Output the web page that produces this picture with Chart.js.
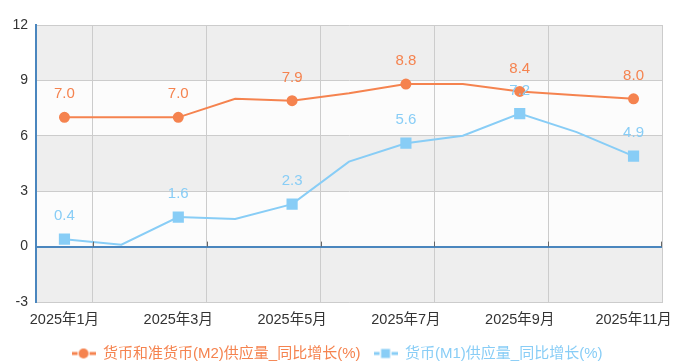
<!DOCTYPE html>
<html>
<head>
<meta charset="utf-8">
<script src="https://cdn.jsdelivr.net/npm/chart.js@4/dist/chart.umd.min.js"></script>
<style>
  html, body { margin: 0; padding: 0; background: #fff; }
  #wrap { width: 674px; height: 364px; }
</style>
</head>
<body>
<div id="wrap"><canvas id="c" width="674" height="364"></canvas></div>
<script>
// data
const months = ['2025年1月', '2025年2月', '2025年3月', '2025年4月', '2025年5月', '2025年6月',
  '2025年7月', '2025年8月', '2025年9月', '2025年10月', '2025年11月'];
const m2Growth = [7.0, 7.0, 7.0, 8.0, 7.9, 8.3, 8.8, 8.8, 8.4, 8.2, 8.0];
const m1Growth = [0.4, 0.1, 1.6, 1.5, 2.3, 4.6, 5.6, 6.0, 7.2, 6.2, 4.9];
const yTicks = [-3, 0, 3, 6, 9, 12];
const m2Name = '货币和准货币(M2)供应量_同比增长(%)';
const m1Name = '货币(M1)供应量_同比增长(%)';

const ORANGE = '#f5834f';
const BLUE = '#88cdf6';
const AXIS_BLUE = '#4a86be';
const FONT = '"Liberation Sans", Arial, "Noto Sans CJK SC", sans-serif';

// only odd months carry a marker and a label
const shown = i => i % 2 === 0;

// legend symbols: short line with the marker in the middle
function legendIcon(color, shape) {
  const cv = document.createElement('canvas');
  cv.width = 24; cv.height = 12;
  const g = cv.getContext('2d');
  g.strokeStyle = color;
  g.lineWidth = 3;
  g.beginPath(); g.moveTo(0, 6); g.lineTo(6, 6); g.moveTo(18, 6); g.lineTo(24, 6); g.stroke();
  g.fillStyle = color;
  if (shape === 'circle') {
    g.beginPath(); g.arc(12, 6, 5, 0, Math.PI * 2); g.fill();
  } else {
    g.fillRect(7.5, 1.5, 9, 9);
  }
  return cv;
}

// alternating grey / white bands behind the plot
const bands = {
  id: 'bands',
  beforeDraw(chart) {
    const { ctx, chartArea: a, scales: { y } } = chart;
    ctx.save();
    for (let i = 0; i < yTicks.length - 1; i++) {
      const top = y.getPixelForValue(yTicks[i + 1]);
      const bot = y.getPixelForValue(yTicks[i]);
      ctx.fillStyle = i % 2 === 0 ? '#eeeeee' : '#fcfcfc';
      ctx.fillRect(a.left, top, a.right - a.left, bot - top);
    }
    ctx.restore();
  }
};

// small tick marks sitting on the zero line, after every labelled month
const zeroTicks = {
  id: 'zeroTicks',
  afterDraw(chart) {
    const { ctx, scales: { x, y } } = chart;
    const y0 = y.getPixelForValue(0);
    ctx.save();
    ctx.strokeStyle = '#666';
    ctx.lineWidth = 1;
    for (let i = 0; i < months.length; i += 2) {
      const px = i + 1 < months.length
        ? (x.getPixelForValue(i) + x.getPixelForValue(i + 1)) / 2
        : chart.chartArea.right - 1;
      ctx.beginPath();
      ctx.moveTo(Math.round(px) + 0.5, y0 - 5);
      ctx.lineTo(Math.round(px) + 0.5, y0);
      ctx.stroke();
    }
    ctx.restore();
  }
};

// value labels above the marked points
const valueLabels = {
  id: 'valueLabels',
  afterDatasetsDraw(chart) {
    const { ctx } = chart;
    ctx.save();
    ctx.font = '15px ' + FONT;
    ctx.textAlign = 'center';
    ctx.textBaseline = 'middle';
    chart.data.datasets.forEach((ds, di) => {
      const meta = chart.getDatasetMeta(di);
      meta.data.forEach((pt, i) => {
        if (!shown(i)) return;
        ctx.fillStyle = ds.borderColor;
        ctx.fillText(ds.data[i].toFixed(1), pt.x, pt.y - 23);
      });
    });
    ctx.restore();
  }
};

new Chart(document.getElementById('c'), {
  type: 'line',
  data: {
    labels: months,
    datasets: [
      {
        label: m2Name,
        data: m2Growth,
        borderColor: ORANGE,
        backgroundColor: ORANGE,
        borderWidth: 2,
        tension: 0,
        pointStyle: 'circle',
        pointRadius: c => shown(c.dataIndex) ? 4.5 : 0,
        pointHoverRadius: 0,
        legendIcon: legendIcon(ORANGE, 'circle')
      },
      {
        label: m1Name,
        data: m1Growth,
        borderColor: BLUE,
        backgroundColor: BLUE,
        borderWidth: 2,
        tension: 0,
        pointStyle: 'rect',
        pointRadius: c => shown(c.dataIndex) ? 6.5 : 0,
        pointHoverRadius: 0,
        legendIcon: legendIcon(BLUE, 'rect')
      }
    ]
  },
  options: {
    responsive: false,
    devicePixelRatio: 1,
    animation: false,
    layout: { padding: { top: 25, right: 0, left: 0, bottom: -7 } },
    plugins: {
      tooltip: { enabled: false },
      legend: {
        position: 'bottom',
        labels: {
          usePointStyle: true,
          pointStyleWidth: 24,
          padding: 13,
          font: { size: 15, family: FONT },
          generateLabels(chart) {
            return chart.data.datasets.map((ds, i) => ({
              text: ds.label,
              fontColor: ds.borderColor,
              pointStyle: ds.legendIcon,
              fillStyle: ds.borderColor,
              strokeStyle: ds.borderColor,
              lineWidth: 0,
              hidden: false,
              datasetIndex: i
            }));
          }
        }
      }
    },
    scales: {
      x: {
        offset: true,
        afterFit: s => { s.height = 31; s.paddingLeft = 0; s.paddingRight = 12; },
        grid: {
          offset: true,
          drawTicks: false,
          color: c => (c.index === undefined || c.index % 2 === 1) ? '#cccccc' : 'rgba(0,0,0,0)'
        },
        border: { color: '#cccccc', width: 1 },
        ticks: {
          autoSkip: false,
          maxRotation: 0,
          padding: 9,
          color: '#333',
          font: { size: 14.5, family: FONT },
          callback: (v, i) => shown(i) ? months[i] : ''
        }
      },
      y: {
        min: -3,
        max: 12,
        afterFit: s => { s.width = 36; },
        afterBuildTicks: s => { s.ticks = yTicks.map(v => ({ value: v })); },
        grid: {
          drawTicks: false,
          color: c => c.tick && c.tick.value === 0 ? AXIS_BLUE : '#cccccc',
          lineWidth: c => c.tick && c.tick.value === 0 ? 2 : 1
        },
        border: { color: AXIS_BLUE, width: 2 },
        ticks: {
          padding: 8,
          color: '#333',
          font: { size: 14, family: FONT }
        }
      }
    }
  },
  plugins: [bands, zeroTicks, valueLabels]
});
</script>
</body>
</html>
